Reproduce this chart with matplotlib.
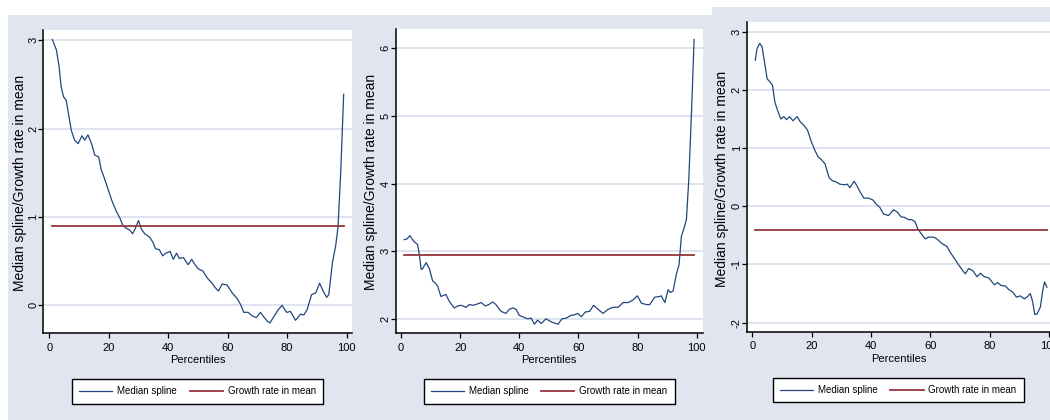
import matplotlib
matplotlib.use("Agg")
import matplotlib.pyplot as plt
from matplotlib.patches import Rectangle

plt.rcParams['font.family'] = ['Liberation Sans', 'DejaVu Sans']
plt.rcParams['axes.unicode_minus'] = False

# growth incidence: median spline by percentile, three samples
pct1 = [1.0, 2.4, 3.3, 4.0, 4.8, 5.7, 6.6, 7.4, 8.5, 9.7,
        11.0, 11.9, 13.0, 14.2, 15.3, 16.6, 17.5, 18.3, 19.8, 21.1,
        22.6, 23.7, 24.8, 26.0, 27.1, 28.0, 28.8, 30.0, 31.0, 32.1,
        33.8, 34.9, 35.7, 37.0, 38.1, 39.2, 40.6, 41.7, 42.8, 43.7,
        45.1, 46.7, 47.9, 49.0, 50.2, 51.6, 53.1, 54.7, 55.8, 56.9,
        58.1, 59.8, 61.5, 63.1, 64.3, 65.4, 66.9, 68.2, 69.6, 71.0,
        72.1, 73.3, 74.2, 75.5, 77.0, 78.3, 79.8, 81.1, 82.8, 84.5,
        85.6, 86.7, 88.2, 89.6, 90.9, 92.1, 93.3, 94.0, 95.2, 96.3,
        97.1, 98.0, 99.0]
spline1 = [3.01, 2.89, 2.70, 2.47, 2.36, 2.32, 2.14, 1.98, 1.87, 1.83,
           1.92, 1.87, 1.93, 1.83, 1.70, 1.68, 1.53, 1.46, 1.31, 1.18,
           1.06, 0.99, 0.90, 0.87, 0.85, 0.81, 0.86, 0.96, 0.86, 0.81,
           0.77, 0.71, 0.64, 0.63, 0.56, 0.59, 0.61, 0.52, 0.59, 0.53,
           0.54, 0.46, 0.52, 0.46, 0.41, 0.39, 0.31, 0.25, 0.20, 0.16,
           0.24, 0.23, 0.14, 0.08, 0.01, -0.08, -0.08, -0.12, -0.14, -0.08,
           -0.13, -0.18, -0.20, -0.13, -0.05, 0.00, -0.08, -0.07, -0.17, -0.10,
           -0.11, -0.05, 0.12, 0.14, 0.25, 0.16, 0.09, 0.12, 0.48, 0.67,
           0.89, 1.50, 2.39]
mean1 = 0.90

pct2 = [1.1, 2.0, 3.0, 3.9, 4.7, 5.6, 6.2, 6.8, 7.3, 8.5,
        9.6, 10.7, 11.8, 12.4, 13.5, 15.2, 16.3, 18.0, 19.2, 20.3,
        22.0, 23.1, 24.5, 25.9, 27.1, 28.5, 29.7, 31.0, 32.1, 33.8,
        35.5, 36.6, 37.8, 38.9, 40.0, 41.1, 42.8, 44.0, 45.1, 46.2,
        47.4, 49.0, 51.0, 53.1, 54.4, 55.9, 57.4, 58.7, 59.8, 61.0,
        62.3, 63.8, 65.1, 66.6, 68.3, 70.0, 71.7, 73.4, 75.1, 76.8,
        78.5, 79.9, 81.3, 83.0, 84.1, 85.8, 87.5, 88.0, 89.2, 90.3,
        91.1, 92.0, 93.1, 94.0, 94.8, 95.7, 96.5, 97.3, 98.2, 99.1]
spline2 = [3.17, 3.18, 3.23, 3.17, 3.13, 3.10, 2.95, 2.73, 2.74, 2.83,
           2.74, 2.56, 2.52, 2.48, 2.33, 2.36, 2.26, 2.16, 2.19, 2.20,
           2.17, 2.21, 2.20, 2.22, 2.24, 2.19, 2.21, 2.25, 2.21, 2.11,
           2.08, 2.14, 2.16, 2.14, 2.05, 2.03, 2.00, 2.01, 1.92, 1.98,
           1.93, 2.00, 1.95, 1.92, 2.00, 2.01, 2.05, 2.06, 2.08, 2.03,
           2.10, 2.11, 2.20, 2.14, 2.08, 2.14, 2.17, 2.17, 2.24, 2.24,
           2.28, 2.34, 2.23, 2.21, 2.21, 2.32, 2.33, 2.34, 2.24, 2.43,
           2.39, 2.41, 2.66, 2.80, 3.22, 3.34, 3.47, 4.06, 5.04, 6.13]
mean2 = 2.95

pct3 = [1.0, 1.6, 2.5, 3.3, 4.2, 5.0, 5.9, 6.8, 7.6, 8.7,
        9.6, 10.6, 11.5, 12.6, 13.7, 15.1, 16.2, 17.4, 18.6, 19.9,
        21.1, 22.2, 23.3, 24.5, 25.9, 27.0, 28.2, 29.5, 31.0, 32.0,
        32.9, 34.3, 35.2, 36.3, 37.6, 39.1, 40.6, 41.9, 43.0, 44.2,
        45.9, 47.6, 48.9, 50.1, 51.2, 52.7, 53.8, 54.9, 55.7, 56.9,
        58.3, 59.4, 61.1, 62.2, 63.9, 65.6, 66.7, 67.9, 69.6, 71.0,
        71.8, 72.9, 74.4, 75.7, 76.9, 78.2, 79.7, 80.8, 81.6, 82.7,
        83.8, 85.3, 86.4, 87.9, 89.0, 90.3, 91.7, 92.8, 93.7, 94.5,
        95.2, 96.0, 97.1, 97.9, 98.5, 99.3]
spline3 = [2.51, 2.71, 2.80, 2.74, 2.45, 2.19, 2.14, 2.08, 1.79, 1.62,
           1.50, 1.54, 1.49, 1.54, 1.47, 1.54, 1.45, 1.39, 1.31, 1.11,
           0.96, 0.85, 0.80, 0.73, 0.49, 0.44, 0.42, 0.38, 0.37, 0.38,
           0.32, 0.43, 0.36, 0.25, 0.14, 0.14, 0.11, 0.03, -0.02, -0.13,
           -0.16, -0.06, -0.10, -0.18, -0.19, -0.23, -0.23, -0.27, -0.38, -0.47,
           -0.56, -0.53, -0.53, -0.56, -0.64, -0.69, -0.79, -0.88, -1.01, -1.11,
           -1.16, -1.07, -1.11, -1.21, -1.15, -1.21, -1.23, -1.30, -1.35, -1.31,
           -1.36, -1.37, -1.43, -1.48, -1.56, -1.54, -1.59, -1.55, -1.50, -1.64,
           -1.86, -1.85, -1.73, -1.44, -1.30, -1.39]
mean3 = -0.40

xticks = [0, 20, 40, 60, 80, 100]
yticks1 = [0, 1, 2, 3]
yticks2 = [2, 3, 4, 5, 6]
yticks3 = [-2, -1, 0, 1, 2, 3]

navy = '#22467C'
maroon = '#93363C'
bg = '#E0E5F0'
grid = '#D8DFEC'

W, H = 1050, 420


def frac(l, t, r, b):
    # pixel box -> figure fraction [left, bottom, width, height]
    return [l / W, 1 - b / H, (r - l) / W, (b - t) / H]


fig = plt.figure(figsize=(W / 100, H / 100), dpi=100, facecolor='white')

# graph regions of the three pasted panels
for l, t, r, b in [(8, 15, 360, 420), (360, 15, 712, 420), (712, 7, 1050, 420)]:
    x0, y0, w, h = frac(l, t, r, b)
    fig.add_artist(Rectangle((x0, y0), w, h, transform=fig.transFigure,
                             facecolor=bg, edgecolor='none', zorder=0))

panels = [
    (pct1, spline1, mean1, yticks1, (43, 30, 352, 333), (-2.12, 101.8), (-0.314, 3.117), (20.5, 182.5)),
    (pct2, spline2, mean2, yticks2, (395.7, 29.3, 702.7, 333), (-1.79, 102.0), (1.79, 6.28), (370.5, 182.0)),
    (pct3, spline3, mean3, yticks3, (746.7, 21.7, 1050, 331.7), (-1.89, 100.34), (-2.155, 3.172), (722.0, 178.5)),
]

for pct, spline, mean, yticks, box, xlim, ylim, lab in panels:
    ax = fig.add_axes(frac(*box))
    ax.set_facecolor('white')
    ax.plot(pct, spline, color=navy, lw=0.9, label='Median spline', zorder=3)
    ax.plot([pct[0], pct[-1]], [mean, mean], color=maroon, lw=1.3,
            label='Growth rate in mean', zorder=3)
    ax.set_xlim(*xlim)
    ax.set_ylim(*ylim)
    ax.set_xticks(xticks)
    ax.set_yticks(yticks)
    ax.grid(axis='y', color=grid, lw=1.2, zorder=1)
    ax.set_axisbelow(True)
    for s in ['top', 'right']:
        ax.spines[s].set_visible(False)
    for s in ['left', 'bottom']:
        ax.spines[s].set_color('black')
        ax.spines[s].set_linewidth(1.1)
    ax.tick_params(axis='both', direction='out', length=3.5, width=0.9,
                   color='black', labelsize=8, labelcolor='black')
    ax.tick_params(axis='x', pad=3.5)
    ax.tick_params(axis='y', pad=0, labelrotation=90)
    for t in ax.get_yticklabels():
        t.set_va('center')
    ax.set_xlabel('Percentiles', fontsize=8, labelpad=1.5)
    fig.text(lab[0] / W, 1 - lab[1] / H, 'Median spline/Growth rate in mean',
             rotation=90, ha='center', va='center', fontsize=10)
    hgt = box[3] - box[1]
    leg = ax.legend(loc='upper center', bbox_to_anchor=(0.5, -46.0 / hgt), ncol=2,
                    fontsize=7, frameon=True, fancybox=False, framealpha=1,
                    edgecolor='black', handlelength=3.4, handletextpad=0.5,
                    columnspacing=1.3, borderpad=0.75, borderaxespad=0)
    leg.get_frame().set_linewidth(1.0)

plt.savefig('out.png', dpi=100, facecolor='white')
